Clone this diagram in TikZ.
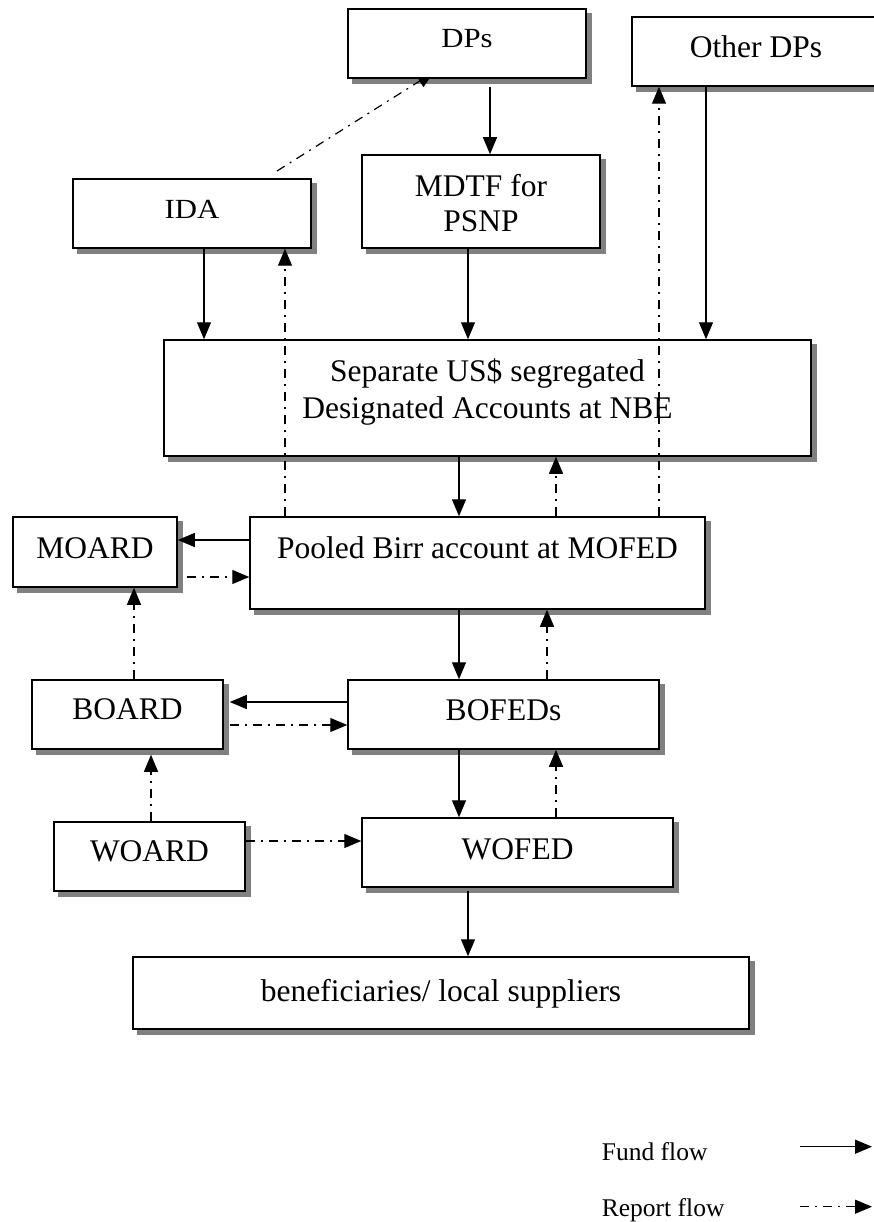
\documentclass[tikz,border=0pt]{standalone}
\usepackage{fontspec}
\setmainfont{Liberation Serif}
\usetikzlibrary{arrows.meta,calc}
\pgfdeclarelayer{bglayer}
\pgfdeclarelayer{shadowlayer}
\pgfdeclarelayer{midlayer}
\pgfdeclarelayer{frontlayer}
\pgfsetlayers{bglayer,shadowlayer,midlayer,main,frontlayer}
\begin{document}
\begin{tikzpicture}[x=1pt,y=-1pt,
  box/.style={draw, line width=1.5pt, fill=white, inner sep=0pt},
  txt/.style={inner sep=0pt, anchor=base, font=\fontsize{31.5}{36}\selectfont},
  smalltxt/.style={inner sep=0pt, anchor=base, font=\fontsize{27.7}{32}\selectfont},
  legtxt/.style={inner sep=0pt, anchor=base west, font=\fontsize{25.5}{30}\selectfont},
  fund/.style={line width=1.3pt, -{Triangle[length=17pt,width=14pt]}},
  report/.style={line width=1.2pt, dash pattern=on 9pt off 6pt on 2pt off 6pt, -{Triangle[length=17pt,width=14pt]}},
  shadowfill/.style={fill=black!50}
]
\useasboundingbox (0,0) rectangle (873,1222);
\begin{pgfonlayer}{bglayer}
\fill[white] (0,0) rectangle (873,1222);
\end{pgfonlayer}

% boxes
\node[box, minimum width=238pt, minimum height=69pt] (dps) at (467,43.5) {};
\node[box, minimum width=248pt, minimum height=69pt] (other) at (756,51.5) {};
\node[box, minimum width=238pt, minimum height=69pt] (ida) at (192,213.5) {};
\node[box, minimum width=238pt, minimum height=93pt] (mdtf) at (481,201.5) {};
\node[box, minimum width=647pt, minimum height=116pt] (sep) at (487.5,398) {};
\node[box, minimum width=455pt, minimum height=92pt] (pooled) at (477.5,563) {};
\node[box, minimum width=164pt, minimum height=70pt] (moard) at (95,552) {};
\node[box, minimum width=191pt, minimum height=69pt] (board) at (127.5,714.5) {};
\node[box, minimum width=311pt, minimum height=69pt] (bofeds) at (503.5,714.5) {};
\node[box, minimum width=191pt, minimum height=69pt] (woard) at (149.5,856.5) {};
\node[box, minimum width=311pt, minimum height=69pt] (wofed) at (517.5,852.5) {};
\node[box, minimum width=616pt, minimum height=72pt] (benef) at (441,993) {};

% shadows
\begin{pgfonlayer}{shadowlayer}
\foreach \n in {dps,other,ida,mdtf,sep,pooled,moard,board,bofeds,woard,wofed,benef}{
  \fill[shadowfill] ([shift={(5pt,-5pt)}]\n.south west) rectangle ([shift={(5pt,-5pt)}]\n.north east);
}
\end{pgfonlayer}

% texts
\node[smalltxt] (dpsT) at (467,47.3) {\scalebox{1.11}[1]{DPs}};
\node[txt] (otherT) at (756,58) {Other DPs};
\node[smalltxt] (idaT) at (192,218.3) {\scalebox{1.11}[1]{IDA}};
\node[txt] (mdtfA) at (481,196.7) {MDTF for};
\node[txt] (mdtfB) at (481,231.7) {PSNP};
\node[txt] (sepA) at (487.5,381.7) {Separate US\$ segregated};
\node[txt] (sepB) at (487.5,418.3) {Designated Accounts at NBE};
\node[txt] (pooledT) at (477.5,558.3) {Pooled Birr account at MOFED};
\node[txt] (moardT) at (95,558.3) {MOARD};
\node[txt] (boardT) at (127.5,719.3) {BOARD};
\node[txt] (bofedsT) at (503.5,720) {BOFEDs};
\node[txt] (woardT) at (149.5,861.7) {WOARD};
\node[txt] (wofedT) at (517.5,859) {WOFED};
\node[txt] (benefT) at (441,1001) {beneficiaries/ local suppliers};

% report line from IDA to DPs (under the DPs box)
\coordinate (idaRep) at (277,171);
\coordinate (dpsRep) at (434,72);
\begin{pgfonlayer}{midlayer}
\draw[report] (idaRep) -- (dpsRep);
\end{pgfonlayer}

\begin{pgfonlayer}{frontlayer}
% fund flows
\draw[fund, shorten <=8pt] (490,0 |- dps.south) -- (490,0 |- mdtf.north);
\draw[fund] (204,0 |- ida.south) -- (204,0 |- sep.north);
\draw[fund] (468,0 |- mdtf.south) -- (468,0 |- sep.north);
\draw[fund] (706,0 |- other.south) -- (706,0 |- sep.north);
\draw[fund] (459,0 |- sep.south) -- (459,0 |- pooled.north);
\draw[fund] (pooled.west |- 0,540) -- (moard.east |- 0,540);
\draw[fund] (459,0 |- pooled.south) -- (459,0 |- bofeds.north);
\draw[fund, shorten >=6pt] (bofeds.west |- 0,702) -- (board.east |- 0,702);
\draw[fund] (459,0 |- bofeds.south) -- (459,0 |- wofed.north);
\draw[fund, shorten <=3pt] (468,0 |- wofed.south) -- (468,0 |- benef.north);
% report flows
\draw[report] (285,0 |- pooled.north) -- (285,0 |- ida.south);
\draw[report] (659,0 |- pooled.north) -- (659,0 |- other.south);
\draw[report] (556,0 |- pooled.north) -- (556,0 |- sep.south);
\draw[report, shorten <=9pt] (moard.east |- 0,577) -- (pooled.west |- 0,577);
\draw[report] (134,0 |- board.north) -- (134,0 |- moard.south);
\draw[report] (547,0 |- bofeds.north) -- (547,0 |- pooled.south);
\draw[report, shorten <=6pt] (board.east |- 0,725) -- (bofeds.west |- 0,725);
\draw[report, shorten >=5pt] (151,0 |- woard.north) -- (151,0 |- board.south);
\draw[report] (556,0 |- wofed.north) -- (556,0 |- bofeds.south);
\draw[report] (woard.east |- 0,841) -- (wofed.west |- 0,841);
\end{pgfonlayer}

% legend
\node[legtxt] (legF) at (601.7,1160) {Fund flow};
\node[legtxt] (legR) at (601.7,1216) {Report flow};
\coordinate (lf1) at (800,1146.7);
\coordinate (lf2) at (872,1146.7);
\coordinate (lr1) at (800,1206.7);
\coordinate (lr2) at (872,1206.7);
\draw[fund] (lf1) -- (lf2);
\draw[report] (lr1) -- (lr2);
\end{tikzpicture}
\end{document}
